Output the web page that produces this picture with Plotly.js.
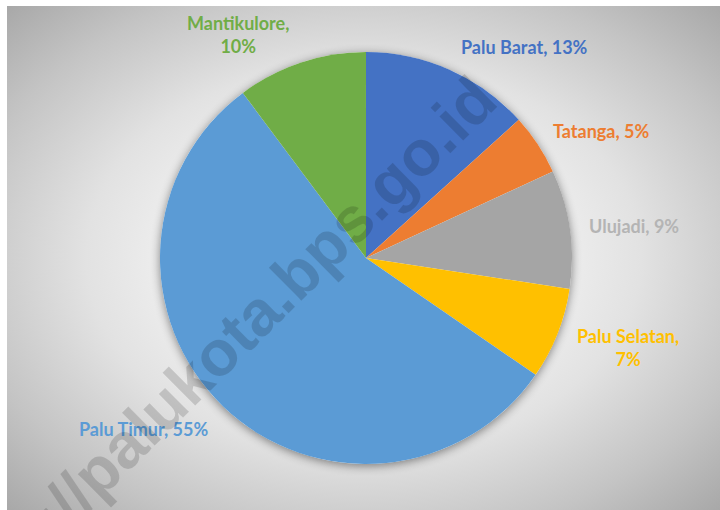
<!DOCTYPE html>
<html>
<head>
<meta charset="utf-8">
<script src="https://cdn.plot.ly/plotly-3.0.1.min.js"></script>
<style>
  html, body { margin: 0; padding: 0; background: #ffffff; }
  #bg { position: absolute; left: 7px; top: 6px; width: 713px; height: 504px;
        background: radial-gradient(ellipse farthest-corner at 50% 50%, #ffffff 0%, #f4f4f4 30%, #e2e2e2 55%, #c4c4c4 80%, #a8a8a8 100%); }
  #chart { position: absolute; left: 0; top: 0; width: 720px; height: 510px; }
  .pielayer g.trace:first-child { filter: drop-shadow(0px 2px 5px rgba(0,0,0,0.45)); }
</style>
</head>
<body>
<div id="bg"></div>
<div id="chart"></div>
<script>
// Data
const categories = ["Palu Barat", "Tatanga", "Ulujadi", "Palu Selatan", "Palu Timur", "Mantikulore"];
const values = [13.3, 4.8, 9.3, 7.2, 55.2, 10.2];
const colors = ["#4472C4", "#ED7D31", "#A5A5A5", "#FFC000", "#5B9BD5", "#70AD47"];
const labelColors = ["#4472C4", "#ED7D31", "#B4B4B4", "#FFC000", "#5B9BD5", "#70AD47"];
const watermark = "https://palukota.bps.go.id";

// Layout-only: label anchor points (paper fraction) and line breaks
const labelX = [0.7278, 0.8354, 0.8801, 0.8722, 0.1990, 0.3306];
const labelY = [0.9078, 0.7431, 0.5569, 0.3196, 0.1588, 0.9333];
const wrapLabel = [false, false, false, true, false, true];

const dom = { x: [0.2222, 0.7944], y: [0.0902, 0.898] };

const total = values.reduce((a, b) => a + b, 0);
const labelTexts = categories.map((c, i) =>
  c + "," + (wrapLabel[i] ? "<br>" : " ") + Math.round(values[i] / total * 100) + "%");

const shadowTrace = {
  type: "pie",
  values: [1],
  labels: ["shadow"],
  marker: { colors: ["#ffffff"] },
  textinfo: "none",
  hoverinfo: "skip",
  showlegend: false,
  sort: false,
  domain: dom
};

const pieTrace = {
  type: "pie",
  labels: categories,
  values: values,
  sort: false,
  direction: "clockwise",
  rotation: 0,
  marker: { colors: colors, line: { width: 0 } },
  textinfo: "none",
  showlegend: false,
  domain: dom
};

const labelAnnotations = labelTexts.map((t, i) => ({
  text: t,
  xref: "paper", yref: "paper",
  x: labelX[i], y: labelY[i],
  xanchor: "center", yanchor: "middle",
  align: "center",
  showarrow: false,
  font: { family: "Lato, 'Open Sans', sans-serif", size: 18, color: labelColors[i], weight: "bold" }
}));

const layout = {
  width: 720,
  height: 510,
  margin: { l: 0, r: 0, t: 0, b: 0 },
  paper_bgcolor: "rgba(0,0,0,0)",
  plot_bgcolor: "rgba(0,0,0,0)",
  showlegend: false,
  annotations: labelAnnotations.concat([{
    text: "<b>" + watermark + "</b>",
    xref: "paper", yref: "paper",
    x: 0.289, y: 0.290,
    xanchor: "center", yanchor: "middle",
    showarrow: false,
    textangle: -44.7,
    font: { family: "Liberation Sans, Arial, sans-serif", size: 64, color: "rgba(0,0,0,0.15)" }
  }])
};

Plotly.newPlot("chart", [shadowTrace, pieTrace], layout, { displayModeBar: false, staticPlot: true });
</script>
</body>
</html>
